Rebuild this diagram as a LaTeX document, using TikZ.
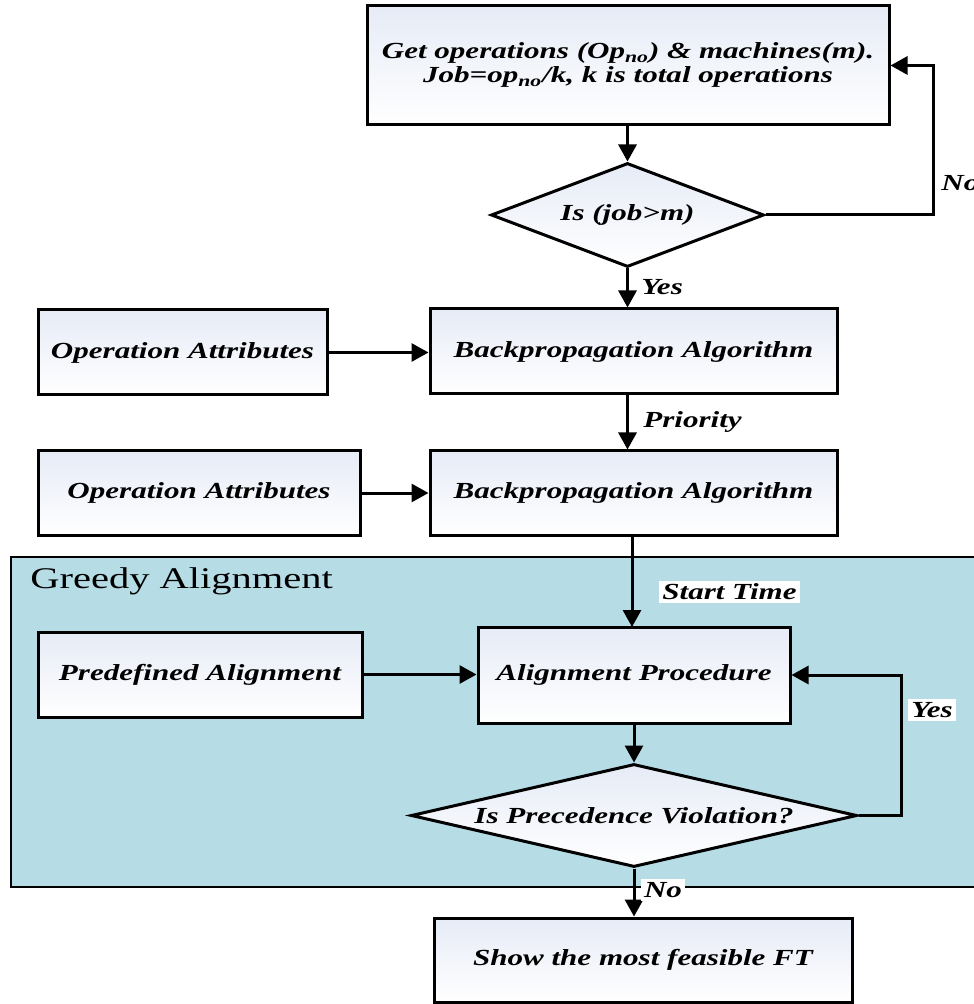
\documentclass[tikz,border=0pt]{standalone}
\usepackage{fontspec}
\setmainfont{Liberation Serif}[FakeStretch=1.35]
\usetikzlibrary{arrows.meta,shapes.geometric}

\definecolor{panelblue}{RGB}{182,220,230}
\definecolor{boxtop}{RGB}{230,235,246}

\tikzset{
  labelfont/.style={font=\fontsize{11.5}{13}\selectfont\bfseries\itshape},
  flowbox/.style={draw=black, line width=1.5pt, top color=boxtop, bottom color=white,
    minimum width=#1, inner sep=0pt, labelfont, align=center},
  decision/.style={diamond, draw=black, line width=1.5pt, top color=boxtop, bottom color=white,
    inner sep=0pt, label={[labelfont]center:#1}},
  flow/.style={line width=1.5pt, -{Triangle[length=8.5pt,width=9pt]}},
  lbl/.style={labelfont, inner sep=1.5pt},
  whitelbl/.style={lbl, fill=white},
}

\begin{document}
\begin{tikzpicture}[x=0.5pt,y=-0.5pt]
\useasboundingbox (0,0) rectangle (973,1004);

% Greedy alignment panel
\path[fill=panelblue, draw=black, line width=1.2pt] (11,557) rectangle (1000,887);
\node[anchor=west, font=\fontsize{15}{17}\selectfont, inner sep=0pt] (greedy) at (30,581) {Greedy Alignment};

% boxes
\node[flowbox=261pt, minimum height=59.5pt] (get) at (628,65.5)
  {\raisebox{3pt}{\begin{tabular}{@{}c@{}}Get operations (Op\textsubscript{no}) \& machines(m).\\[-1pt]Job=op\textsubscript{no}/k, k is total operations\end{tabular}}};
\node[decision={Is (job>m)}, minimum width=136.5pt, minimum height=52pt] (jobm) at (627.5,215) {};

\node[flowbox=144.5pt, minimum height=42.5pt] (attr1) at (182.5,352.5) {Operation Attributes};
\node[flowbox=203.5pt, minimum height=42.5pt] (bp1) at (633.5,351.5) {Backpropagation Algorithm};

\node[flowbox=161pt, minimum height=42pt] (attr2) at (199,493) {Operation Attributes};
\node[flowbox=203.5pt, minimum height=42pt] (bp2) at (633.5,493) {Backpropagation Algorithm};

\node[flowbox=162pt, minimum height=42.5pt] (predef) at (200,674.5) {Predefined Alignment};
\node[flowbox=156pt, minimum height=48pt] (align) at (634,675) {Alignment Procedure};

\node[decision={Is Precedence Violation?}, minimum width=223pt, minimum height=51.5pt] (viol) at (634,815.5) {};

\node[flowbox=209pt, minimum height=42pt] (final) at (643,960) {Show the most feasible FT};

% connectors
\draw[flow] (get.south -| jobm.north) -- (jobm.north);
\coordinate (nocorner) at (933,215);
\draw[flow] (jobm.east) -- (nocorner) |- (get.east);
\node[lbl, anchor=west] (nolbl) at (938,183) {No};

\draw[flow] (jobm.south) -- (jobm.south |- bp1.north);
\node[lbl, anchor=west] (yes1) at (638,287) {Yes};

\draw[flow] (attr1.east) -- (attr1.east -| bp1.west);
\draw[flow] (jobm.south |- bp1.south) -- (jobm.south |- bp2.north);
\node[lbl, anchor=west] (prio) at (640,422) {Priority};

\draw[flow] (attr2.east) -- (attr2.east -| bp2.west);

\draw[flow] (632,535) -- (632,627);
\node[whitelbl] (start) at (729.5,592) {Start Time};

\draw[flow] (predef.east) -- (predef.east -| align.west);
\draw[flow] (viol.north |- align.south) -- (viol.north);

\coordinate (yescorner) at (901,815.5);
\draw[flow] (viol.east) -- (yescorner) |- (align.east);
\node[whitelbl] (yes2) at (932,710) {Yes};

\draw[flow] (viol.south) -- (viol.south |- final.north);
\node[whitelbl] (no2) at (663,890) {No};
\end{tikzpicture}
\end{document}
